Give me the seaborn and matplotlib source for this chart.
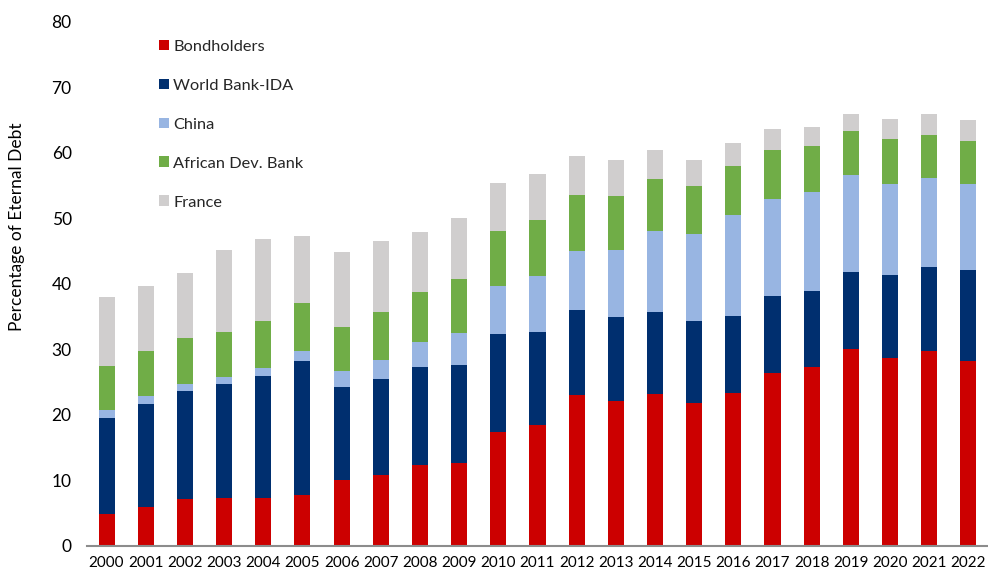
import numpy as np
import pandas as pd
import matplotlib
matplotlib.use("Agg")
import matplotlib.pyplot as plt
from matplotlib.patches import Patch
import seaborn as sns

years = [str(y) for y in range(2000, 2023)]

bondholders = [4.9, 5.9, 7.1, 7.3, 7.3, 7.8, 10.1, 10.9, 12.3, 12.7, 17.4, 18.4,
               23.0, 22.1, 23.2, 21.8, 23.3, 26.4, 27.3, 30.0, 28.7, 29.7, 28.3]
world_bank_ida = [14.7, 15.8, 16.6, 17.4, 18.7, 20.5, 14.1, 14.6, 15.1, 15.0, 14.9, 14.3,
                  13.1, 12.9, 12.5, 12.5, 11.8, 11.8, 11.6, 11.8, 12.6, 12.9, 13.8]
china = [1.1, 1.2, 1.1, 1.1, 1.2, 1.5, 2.5, 2.9, 3.7, 4.8, 7.4, 8.5,
         8.9, 10.2, 12.4, 13.3, 15.5, 14.8, 15.1, 14.8, 14.0, 13.6, 13.2]
african_dev_bank = [6.8, 6.9, 6.9, 6.8, 7.2, 7.3, 6.8, 7.3, 7.6, 8.2, 8.4, 8.6,
                    8.6, 8.2, 7.9, 7.4, 7.4, 7.4, 7.1, 6.7, 6.8, 6.6, 6.5]
france = [10.5, 9.9, 9.9, 12.6, 12.4, 10.3, 11.4, 10.9, 9.2, 9.3, 7.3, 7.0,
          5.9, 5.6, 4.5, 4.0, 3.5, 3.3, 2.8, 2.7, 3.1, 3.1, 3.2]

series_names = ["Bondholders", "World Bank-IDA", "China", "African Dev. Bank", "France"]
series_values = [bondholders, world_bank_ida, china, african_dev_bank, france]
colors = ["#CC0000", "#002F6F", "#98B5E2", "#70AD47", "#D0CECE"]

sns.set_theme(style="white")
plt.rcParams["font.family"] = ["Lato", "DejaVu Sans"]

df = pd.DataFrame(dict(zip(series_names, series_values)), index=years)
cumulative = df.cumsum(axis=1)

fig = plt.figure(figsize=(9.88, 5.78), dpi=100)
ax = fig.add_axes([0.088, 0.0554, 0.912, 0.9066])

# Stacked bars: draw cumulative totals from the top layer down
for name, color in reversed(list(zip(series_names, colors))):
    sns.barplot(x=cumulative.index, y=cumulative[name].values, color=color,
                width=0.41, linewidth=0, saturation=1, ax=ax)

ax.set_ylim(0, 80)
ax.set_xlim(-0.5, len(years) - 0.5)
ax.set_yticks(range(0, 81, 10))
ax.tick_params(axis="y", length=0, pad=11, labelsize=12.5, colors="#000000")
ax.tick_params(axis="x", length=0, pad=7, labelsize=11, colors="#000000")
ax.set_xlabel("")
ax.set_ylabel("Percentage of Eternal Debt", fontsize=12.5, color="#000000")
ax.yaxis.set_label_coords(-0.069, 0.61)

for side in ["left", "right", "top"]:
    ax.spines[side].set_visible(False)
ax.spines["bottom"].set_color("#8C8C8C")
ax.spines["bottom"].set_linewidth(1.5)

handles = [Patch(facecolor=c, edgecolor="none") for c in colors]
ax.legend(handles, series_names, loc="upper left", bbox_to_anchor=(0.0725, 0.979),
          frameon=False, fontsize=11.8, handlelength=0.62, handleheight=0.62,
          handletextpad=0.25, labelspacing=1.52, borderaxespad=0)

fig.savefig("out.png", dpi=100)
